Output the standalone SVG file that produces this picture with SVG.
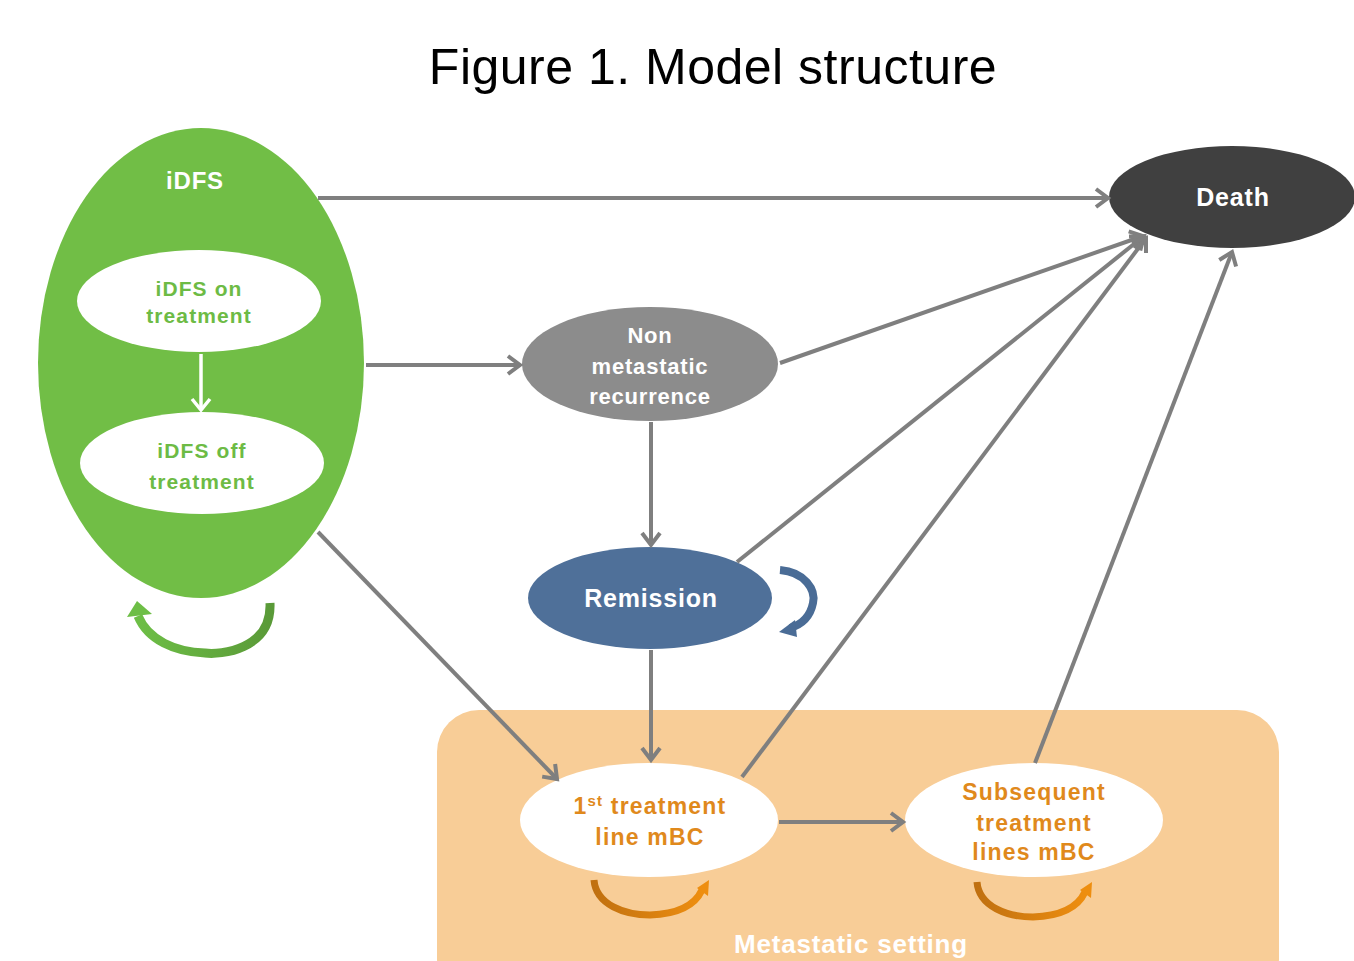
<svg xmlns="http://www.w3.org/2000/svg" width="1354" height="961" viewBox="0 0 1354 961">
<defs>
<style>
.title{font-family:"Liberation Sans",Arial,sans-serif;font-size:50px;fill:#000;}
.wb{font-family:"Liberation Sans",Arial,sans-serif;font-weight:bold;fill:#fff;text-anchor:middle;letter-spacing:0.8px;}
.gt{font-family:"Liberation Sans",Arial,sans-serif;font-weight:bold;fill:#6DBB45;text-anchor:middle;font-size:21px;letter-spacing:1.1px;}
.ot{font-family:"Liberation Sans",Arial,sans-serif;font-weight:bold;fill:#E0891C;text-anchor:middle;font-size:23px;letter-spacing:1.2px;}
.conn{stroke:#7F7F7F;stroke-width:4;fill:none;marker-end:url(#ah);}
</style>
<marker id="ah" markerUnits="userSpaceOnUse" markerWidth="24" markerHeight="24" viewBox="0 0 24 24" refX="20" refY="12" orient="auto">
<path d="M8,3 L20,12 L8,21" fill="none" stroke="#7F7F7F" stroke-width="4"/>
</marker>
<marker id="ahw" markerUnits="userSpaceOnUse" markerWidth="24" markerHeight="24" viewBox="0 0 24 24" refX="20" refY="12" orient="auto">
<path d="M9,3 L20,12 L9,21" fill="none" stroke="#fff" stroke-width="3.5"/>
</marker>
<linearGradient id="gg" x1="0" y1="0" x2="1" y2="0">
<stop offset="0" stop-color="#6DBE46"/><stop offset="1" stop-color="#5A9A38"/>
</linearGradient>
<linearGradient id="og" x1="0" y1="0" x2="1" y2="0">
<stop offset="0" stop-color="#C07010"/><stop offset="1" stop-color="#EE8E10"/>
</linearGradient>
</defs>
<rect width="1354" height="961" fill="#fff"/>
<text class="title" x="713" y="84" text-anchor="middle" letter-spacing="0.5">Figure 1. Model structure</text>

<g id="metastatic-setting">
<rect x="437" y="710" width="842" height="290" rx="42" fill="#F8CD97"/>
<text class="wb" x="851" y="953" font-size="26">Metastatic  setting</text>
</g>

<g id="idfs">
<ellipse cx="201" cy="363" rx="163" ry="235" fill="#71BE46"/>
<text class="wb" x="195" y="189" font-size="24">iDFS</text>
</g>
<g id="idfs-on">
<ellipse cx="199" cy="301" rx="122" ry="51" fill="#fff"/>
<text class="gt" x="199" y="296">iDFS on</text>
<text class="gt" x="199" y="323">treatment</text>
</g>
<g id="idfs-off">
<ellipse cx="202" cy="463" rx="122" ry="51" fill="#fff"/>
<text class="gt" x="202" y="458" font-size="23">iDFS off</text>
<text class="gt" x="202" y="489" font-size="23">treatment</text>
</g>
<g id="death">
<ellipse cx="1232" cy="197" rx="123" ry="51" fill="#404040"/>
<text class="wb" x="1233" y="206" font-size="25">Death</text>
</g>
<g id="non-metastatic">
<ellipse cx="650" cy="364" rx="128" ry="57" fill="#8C8C8C"/>
<text class="wb" x="650" y="343" font-size="22" letter-spacing="1.5">Non</text>
<text class="wb" x="650" y="374" font-size="22" letter-spacing="1.5">metastatic</text>
<text class="wb" x="650" y="404" font-size="22" letter-spacing="1.5">recurrence</text>
</g>
<g id="remission">
<ellipse cx="650" cy="598" rx="122" ry="51" fill="#4F7099"/>
<text class="wb" x="651" y="607" font-size="25">Remission</text>
</g>
<g id="first-line">
<ellipse cx="649" cy="820" rx="129" ry="57" fill="#fff"/>
<text class="ot" x="650" y="814">1<tspan font-size="15" dy="-8">st</tspan><tspan dy="8"> treatment</tspan></text>
<text class="ot" x="650" y="845">line mBC</text>
</g>
<g id="subsequent">
<ellipse cx="1034" cy="820" rx="129" ry="57" fill="#fff"/>
<text class="ot" x="1034" y="800">Subsequent</text>
<text class="ot" x="1034" y="831">treatment</text>
<text class="ot" x="1034" y="860">lines mBC</text>
</g>

<g id="connectors">
<line class="conn" x1="318" y1="198" x2="1108" y2="198"/>
<line class="conn" x1="366" y1="365" x2="520" y2="365"/>
<line class="conn" x1="780" y1="363" x2="1143" y2="236"/>
<line class="conn" x1="651" y1="422" x2="651" y2="545"/>
<line class="conn" x1="737" y1="562" x2="1144" y2="236"/>
<line class="conn" x1="651" y1="650" x2="651" y2="760"/>
<line class="conn" x1="318" y1="532" x2="557" y2="779"/>
<line class="conn" x1="742" y1="777" x2="1146" y2="238"/>
<line class="conn" x1="1035" y1="763" x2="1232" y2="252"/>
<line class="conn" x1="779" y1="822" x2="903" y2="822"/>
<line x1="201" y1="354" x2="201" y2="410" stroke="#fff" stroke-width="3.5" marker-end="url(#ahw)"/>
</g>

<g id="self-loops">
<path d="M270,603 C272,650 220,655 205,653 C175,652 148,640 138,616" fill="none" stroke="url(#gg)" stroke-width="9"/>
<polygon points="127,617 137,601 152,614" fill="#6DBE46"/>
<path d="M780,570 C805,572 816,590 813,603 C810,618 800,625 790,628" fill="none" stroke="#4A6C96" stroke-width="8"/>
<polygon points="779,632 795,620 797,637" fill="#4A6C96"/>
<path d="M594,880 C596,905 625,915 650,915 C680,914 695,905 702,890" fill="none" stroke="url(#og)" stroke-width="7"/>
<polygon points="697,888 709,880 708,896" fill="#EE8E10"/>
<path d="M977,882 C979,907 1008,917 1033,917 C1063,916 1078,907 1085,892" fill="none" stroke="url(#og)" stroke-width="7"/>
<polygon points="1080,890 1092,882 1091,898" fill="#EE8E10"/>
</g>
</svg>
